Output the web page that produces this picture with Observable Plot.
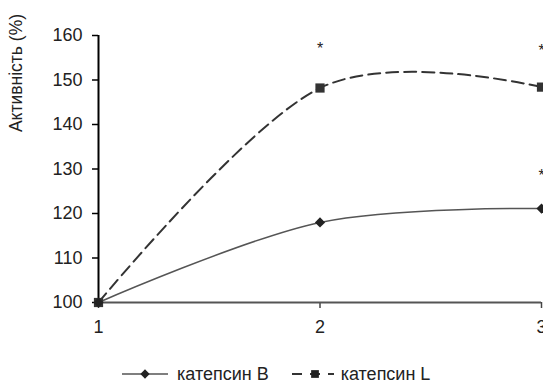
<!DOCTYPE html>
<html><head><meta charset="utf-8">
<script src="https://cdn.jsdelivr.net/npm/d3@7"></script>
<script src="https://cdn.jsdelivr.net/npm/@observablehq/plot@0.6"></script>
<style>
body{margin:0;background:#fff;font-family:"Liberation Sans",Arial,sans-serif;}
#wrap{position:relative;width:543px;height:385px;overflow:hidden;background:#fff}
#legend{position:absolute;left:122px;top:364px;display:flex;align-items:center;font-size:18px;color:#222;line-height:20px;white-space:nowrap}
#legend svg{display:block}
#ylabel{position:absolute;left:16px;top:73px;transform:translate(-50%,-50%) rotate(-90deg);font-size:17.5px;color:#222;white-space:nowrap;line-height:20px}
</style></head><body><div id="wrap"><div id="chart"></div><div id="ylabel"></div><div id="legend"></div></div>
<script>
// data
const xValues = [1, 2, 3];
const catepsinB = [100, 118.0, 121.1];
const catepsinL = [100, 148.2, 148.4];
const starX = [2, 3, 3];
const starY = [157.0, 156.6, 128.4];
const yTicks = [100, 110, 120, 130, 140, 150, 160];
const xTicks = [1, 2, 3];
const yLabel = "Активність (%)";
const seriesNames = ["катепсин B", "катепсин L"];

const dataB = xValues.map((x, i) => ({x, y: catepsinB[i]}));
const dataL = xValues.map((x, i) => ({x, y: catepsinL[i]}));
const stars = starX.map((x, i) => ({x, y: starY[i]}));
const smooth = d3.curveCardinal.tension(0);

const chart = Plot.plot({
  width: 543,
  height: 345,
  marginLeft: 98,
  marginRight: 2,
  marginTop: 35,
  marginBottom: 43,
  style: {fontFamily: "Liberation Sans, Arial, sans-serif", fontSize: "18px", color: "#222", background: "#fff", overflow: "visible"},
  x: {domain: [1, 3]},
  y: {domain: [100, 160]},
  marks: [
    Plot.axisY({ticks: yTicks, tickSize: 6, tickPadding: 10, label: null, stroke: "#000", strokeWidth: 1.5, fontSize: 18}),
    Plot.axisX({ticks: xTicks, tickSize: 6, tickPadding: 12, label: null, tickFormat: d => String(d), stroke: "#444", strokeWidth: 1.5, fontSize: 18}),
    Plot.ruleY([yTicks[0]], {x1: xTicks[0], x2: xTicks[xTicks.length - 1], stroke: "#555", strokeWidth: 2}),
    Plot.line(dataL, {x: "x", y: "y", curve: smooth, stroke: "#333", strokeWidth: 2, strokeDasharray: "12,6"}),
    Plot.line(dataB, {x: "x", y: "y", curve: smooth, stroke: "#555", strokeWidth: 1.5}),
    Plot.ruleX([xTicks[0]], {y1: yTicks[0], y2: yTicks[yTicks.length - 1], stroke: "#000", strokeWidth: 2}),
    Plot.dot(dataL, {x: "x", y: "y", symbol: "square", r: 5.2, fill: "#333", stroke: "none"}),
    Plot.dot(dataB, {x: "x", y: "y", symbol: "diamond2", r: 4.6, fill: "#222", stroke: "none"}),
    Plot.text(stars, {x: "x", y: "y", text: () => "*", fontSize: 16, fill: "#222"})
  ]
});
document.getElementById("chart").appendChild(chart);
document.getElementById("ylabel").textContent = yLabel;

// legend
const legend = document.getElementById("legend");
function item(name, dashed, symbol, w, gapAfter, textGap) {
  const svg = d3.create("svg").attr("width", w).attr("height", 12);
  svg.append("line").attr("x1", 0).attr("x2", w).attr("y1", 6).attr("y2", 6)
    .attr("stroke", dashed ? "#333" : "#555").attr("stroke-width", dashed ? 2 : 1.5)
    .attr("stroke-dasharray", dashed ? "10,8" : null);
  svg.append("path").attr("transform", `translate(${w / 2 + (dashed ? 2 : 0)},6)`)
    .attr("d", d3.symbol(symbol === "square" ? d3.symbolSquare : d3.symbolDiamond2, symbol === "square" ? 60 : 55)())
    .attr("fill", "#222");
  const wrap = document.createElement("div");
  wrap.style.display = "flex"; wrap.style.alignItems = "center"; wrap.style.marginRight = gapAfter + "px";
  const span = document.createElement("span");
  span.textContent = name; span.style.marginLeft = textGap + "px";
  wrap.appendChild(svg.node()); wrap.appendChild(span);
  legend.appendChild(wrap);
}
item(seriesNames[0], false, "diamond", 46, 23, 9);
item(seriesNames[1], true, "square", 42, 0, 7);
</script>
</body></html>
